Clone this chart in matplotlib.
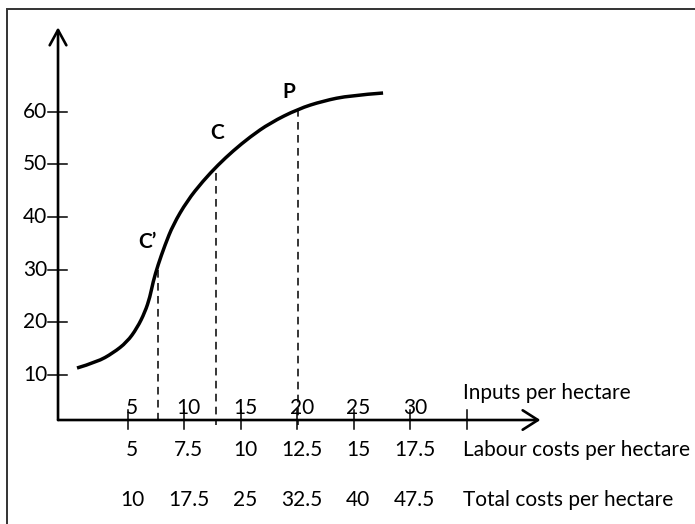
import matplotlib
matplotlib.use('Agg')
import matplotlib.pyplot as plt
from matplotlib.patches import Rectangle, PathPatch
from matplotlib.path import Path

plt.rcParams['font.family'] = ['Lato', 'DejaVu Sans']

# production curve (inputs per hectare -> output)
curve_x = [0.53, 2.30, 3.71, 4.95, 5.84, 6.54, 6.98, 7.25, 7.69, 8.31, 9.02,
           10.26, 11.67, 13.00, 14.32, 15.83, 17.59, 20.07, 22.28, 24.67, 27.59]
curve_y = [11.28, 12.42, 14.13, 16.22, 18.89, 21.93, 24.79, 27.64, 30.88, 34.69,
           38.49, 43.05, 46.86, 49.91, 52.57, 55.24, 57.88, 60.55, 62.07, 63.12,
           63.59]

# marked points C', C, P
point_names = ['C\u2019', 'C', 'P']
point_x = [7.7, 12.8, 20.1]
point_y = [29.9, 48.4, 60.6]

y_ticks = [10, 20, 30, 40, 50, 60]
x_ticks = [5, 10, 15, 20, 25, 30, 35]
inputs = [5, 10, 15, 20, 25, 30]
labour_costs = ['5', '7.5', '10', '12.5', '15', '17.5']
total_costs = ['10', '17.5', '25', '32.5', '40', '47.5']

fig = plt.figure(figsize=(6.95, 5.24), dpi=100)
ax = fig.add_axes([0, 0, 1, 1])
ax.set_xlim(-6.28, 55.17)
ax.set_ylim(-18.39, 81.28)
ax.axis('off')

# frame round the picture (only top and left show)
fig.patches.append(Rectangle((7 / 695, -0.2), 1.2, 1.2 - 9 / 524,
                             transform=fig.transFigure, fill=False,
                             edgecolor='#333333', lw=1.4))

x0, y0 = -1.15, 1.39  # where the axes cross
fs = 15

# axes with open arrow heads
ax.annotate('', xy=(x0, 76.1), xytext=(x0, y0),
            arrowprops=dict(arrowstyle='->,head_length=0.55,head_width=0.3',
                            lw=1.9, color='black', shrinkA=0, shrinkB=0,
                            mutation_scale=20))
ax.annotate('', xy=(41.5, y0), xytext=(x0, y0),
            arrowprops=dict(arrowstyle='->,head_length=0.55,head_width=0.35',
                            lw=1.9, color='black', shrinkA=0, shrinkB=0,
                            mutation_scale=20))

# y ticks and labels
for v in y_ticks:
    ax.plot([-2.03, -0.35], [v, v], color='black', lw=1.1)
    ax.text(-2.1, v, str(v), ha='right', va='center', fontsize=fs)

# x ticks
for u in x_ticks:
    ax.plot([u, u], [3.3, -0.33], color='black', lw=1.1)

# three rows of labels under the axis
for u, inp, lab, tot in zip(inputs, inputs, labour_costs, total_costs):
    ax.text(u + 0.4, 3.6, str(inp), ha='center', va='center', fontsize=fs)
    ax.text(u + 0.4, -4.3, lab, ha='center', va='center', fontsize=fs)
    ax.text(u + 0.4, -13.8, tot, ha='center', va='center', fontsize=fs)

ax.text(34.66, 6.5, 'Inputs per hectare', ha='left', va='center', fontsize=fs)
ax.text(34.66, -4.3, 'Labour costs per hectare', ha='left', va='center', fontsize=fs)
ax.text(34.66, -13.8, 'Total costs per hectare', ha='left', va='center', fontsize=fs)

# curve: read points used as quadratic control points, drawn smooth
pts = list(zip(curve_x, curve_y))
verts = [pts[0]]
codes = [Path.MOVETO]
for i in range(1, len(pts) - 2):
    mid = ((pts[i][0] + pts[i + 1][0]) / 2, (pts[i][1] + pts[i + 1][1]) / 2)
    verts += [pts[i], mid]
    codes += [Path.CURVE3, Path.CURVE3]
verts += [pts[-2], pts[-1]]
codes += [Path.CURVE3, Path.CURVE3]
ax.add_patch(PathPatch(Path(verts, codes), fill=False, edgecolor='black',
                       lw=2.5, capstyle='butt'))

# dashed drop lines and point labels
offsets = [(-8, 20), (1, 29), (-7, 12)]
for name, px, py, off in zip(point_names, point_x, point_y, offsets):
    ax.plot([px, px], [py, 0.45], color='black', lw=1.1, ls=(0, (5, 3.5)))
    ax.annotate(name, xy=(px, py), xytext=off, textcoords='offset points',
                ha='center', va='center', fontsize=fs, fontweight='bold')

plt.savefig('out.png', dpi=100)
